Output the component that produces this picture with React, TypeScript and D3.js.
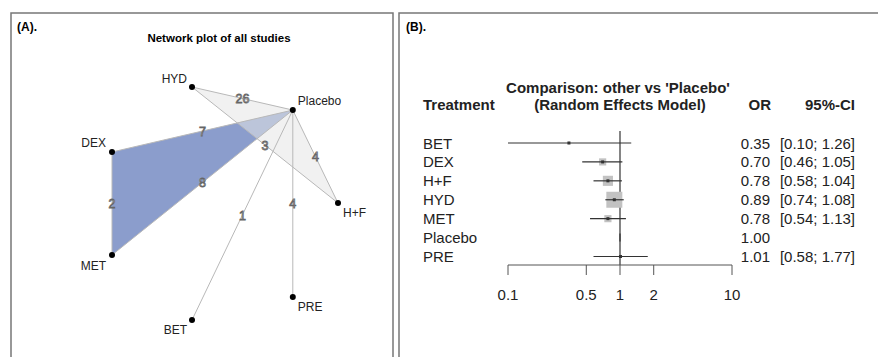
import React from 'react';
import * as d3 from 'd3';

// ---- network plot data ----
const nodeNames = ['HYD', 'Placebo', 'DEX', 'MET', 'H+F', 'PRE', 'BET'];
const nodeU = [0.354, 0.8, 0, 0, 1, 0.8, 0.354];
const nodeV = [0, 0.099, 0.279, 0.721, 0.498, 0.901, 1];
const edgeFrom = ['HYD', 'HYD', 'Placebo', 'DEX', 'DEX', 'MET', 'Placebo', 'Placebo'];
const edgeTo = ['Placebo', 'H+F', 'H+F', 'Placebo', 'MET', 'Placebo', 'BET', 'PRE'];
const edgeStudies = [26, 3, 4, 7, 2, 8, 1, 4];
const multiArmBlue = ['DEX', 'Placebo', 'MET'];
const multiArmGray = ['HYD', 'Placebo', 'H+F'];

// ---- forest plot data ----
const treatments = ['BET', 'DEX', 'H+F', 'HYD', 'MET', 'Placebo', 'PRE'];
const orValues = [0.35, 0.7, 0.78, 0.89, 0.78, 1.0, 1.01];
const ciLower = [0.1, 0.46, 0.58, 0.74, 0.54, null, 0.58];
const ciUpper = [1.26, 1.05, 1.04, 1.08, 1.13, null, 1.77];
const weights = [1, 10, 20, 50, 10, 0, 1];
const axisTicks = [0.1, 0.5, 1, 2, 10];

const FONT = '"Liberation Sans", Arial, Helvetica, sans-serif';

// label placement per node: [dx, dy, anchor]
const labelPlace: Record<string, [number, number, string]> = {
  HYD: [-5, -4, 'end'],
  Placebo: [5, -5, 'start'],
  DEX: [-6, -5, 'end'],
  MET: [-6, 15, 'end'],
  'H+F': [5, 14, 'start'],
  PRE: [5, 14, 'start'],
  BET: [-5, 14, 'end'],
};

function NetworkPanel() {
  const x = d3.scaleLinear().domain([0, 1]).range([112, 338]);
  const y = d3.scaleLinear().domain([0, 1]).range([87, 320]);
  const pos: Record<string, [number, number]> = {};
  nodeNames.forEach((n, i) => {
    pos[n] = [x(nodeU[i]), y(nodeV[i])];
  });
  const poly = (names: string[]) => names.map(n => pos[n].join(',')).join(' ');

  return (
    <g>
      <path d="M11,360 L11,13 L393,13 L393,360" fill="none" stroke="#777" strokeWidth={1.5} />
      <text x={17} y={31} fontSize={12} fontWeight="bold" fontFamily={FONT}>(A).</text>
      <text x={219} y={42} fontSize={11.5} fontWeight="bold" textAnchor="middle" fontFamily={FONT}>
        Network plot of all studies
      </text>
      <polygon points={poly(multiArmBlue)} fill="#8b9dcc" />
      <polygon points={poly(multiArmGray)} fill="#e6e6e6" fillOpacity={0.55} />
      {edgeFrom.map((f, i) => (
        <line
          key={'e' + i}
          x1={pos[f][0]}
          y1={pos[f][1]}
          x2={pos[edgeTo[i]][0]}
          y2={pos[edgeTo[i]][1]}
          stroke="#b8b8b8"
          strokeWidth={1}
        />
      ))}
      {edgeFrom.map((f, i) => (
        <text
          key={'l' + i}
          x={(pos[f][0] + pos[edgeTo[i]][0]) / 2}
          y={(pos[f][1] + pos[edgeTo[i]][1]) / 2 + 4.5}
          textAnchor="middle"
          fontSize={12.5}
          fontFamily={FONT}
          fill="#e4e4e4"
          stroke="#666"
          strokeWidth={0.8}
        >
          {edgeStudies[i]}
        </text>
      ))}
      {nodeNames.map(n => (
        <g key={n}>
          <circle cx={pos[n][0]} cy={pos[n][1]} r={3} fill="#000" />
          <text
            x={pos[n][0] + labelPlace[n][0]}
            y={pos[n][1] + labelPlace[n][1]}
            textAnchor={labelPlace[n][2] as any}
            fontSize={12}
            fontFamily={FONT}
            fill="#222"
          >
            {n}
          </text>
        </g>
      ))}
    </g>
  );
}

function ForestPanel() {
  const x = d3.scaleLog().domain([0.1, 10]).range([508, 732]);
  const rowY = d3.scalePoint<string>().domain(treatments).range([143, 256.5]);
  const size = d3.scaleSqrt().domain([0, 50]).range([0, 16]);
  const axisY = 265;
  const fs = 15;
  const fmt = d3.format('.2f');

  return (
    <g fontFamily={FONT}>
      <path d="M399,360 L399,13 L878,13" fill="none" stroke="#777" strokeWidth={1.5} />
      <text x={406} y={31} fontSize={12} fontWeight="bold">(B).</text>
      <g fontWeight="bold" fontSize={fs} fill="#222">
        <text x={618} y={93} textAnchor="middle">Comparison: other vs 'Placebo'</text>
        <text x={423} y={110}>Treatment</text>
        <text x={620} y={110} textAnchor="middle">(Random Effects Model)</text>
        <text x={771} y={110} textAnchor="end">OR</text>
        <text x={855} y={110} textAnchor="end">95%-CI</text>
      </g>
      <line x1={x(1)} x2={x(1)} y1={131} y2={axisY} stroke="#333" strokeWidth={1.2} />
      {treatments.map((t, i) => {
        const cy = rowY(t)!;
        const s = size(weights[i]);
        const lo = ciLower[i];
        const hi = ciUpper[i];
        return (
          <g key={t}>
            {s > 0 && (
              <rect x={x(orValues[i]) - s / 2} y={cy - s / 2} width={s} height={s} fill="#c2c2c2" />
            )}
            {lo != null && hi != null && (
              <line x1={x(lo)} x2={x(hi)} y1={cy} y2={cy} stroke="#333" strokeWidth={1.2} />
            )}
            {lo != null ? (
              <rect x={x(orValues[i]) - 1.5} y={cy - 1.5} width={3} height={3} fill="#333" />
            ) : (
              <line x1={x(orValues[i])} x2={x(orValues[i])} y1={cy - 4} y2={cy + 4} stroke="#333" strokeWidth={1.2} />
            )}
            <text x={423} y={cy + 5.5} fontSize={fs} fill="#222">{t}</text>
            <text x={770} y={cy + 5.5} fontSize={fs} fill="#222" textAnchor="end">{fmt(orValues[i])}</text>
            {lo != null && hi != null && (
              <text x={855} y={cy + 5.5} fontSize={fs} fill="#222" textAnchor="end">
                [{fmt(lo)}; {fmt(hi)}]
              </text>
            )}
          </g>
        );
      })}
      <line x1={x(0.1)} x2={x(10)} y1={axisY} y2={axisY} stroke="#555" strokeWidth={1} />
      {axisTicks.map(v => (
        <g key={v}>
          <line x1={x(v)} x2={x(v)} y1={axisY} y2={axisY + 10} stroke="#555" strokeWidth={1} />
          <text x={x(v)} y={300} textAnchor="middle" fontSize={fs} fill="#222">{v}</text>
        </g>
      ))}
    </g>
  );
}

export default function App() {
  return (
    <svg
      width={878}
      height={357}
      style={{ position: 'absolute', left: 0, top: 0, background: '#fff' }}
    >
      <rect width={878} height={357} fill="#fff" />
      <NetworkPanel />
      <ForestPanel />
    </svg>
  );
}
